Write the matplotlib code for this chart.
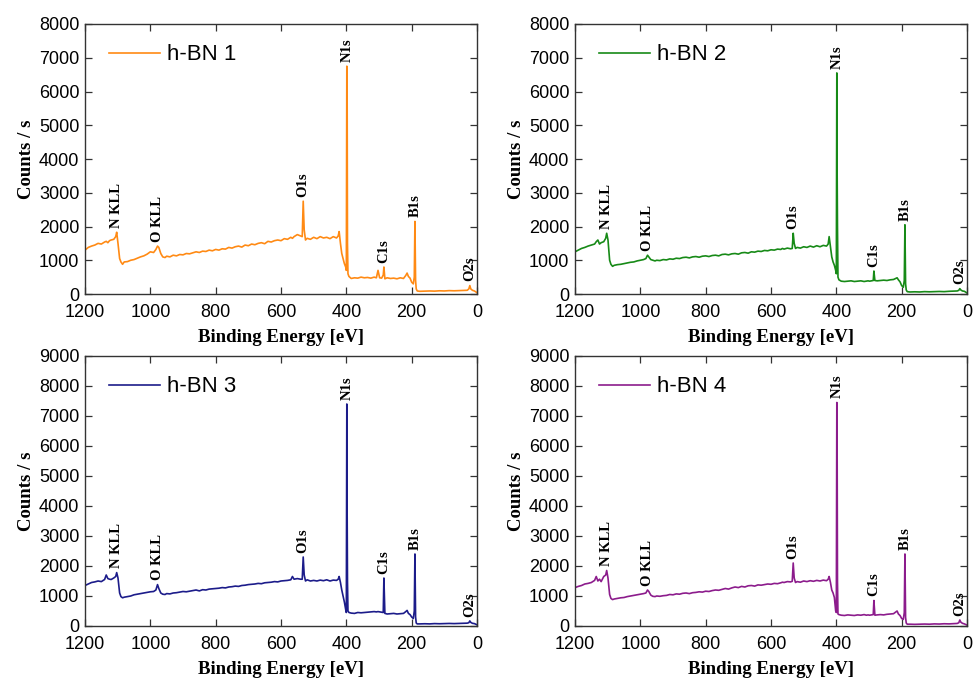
import matplotlib
matplotlib.use("Agg")
import matplotlib.pyplot as plt
import numpy as np

# ---------------- data (binding energy grid shared by all spectra) ----------------
energy = [
    1200, 1190, 1180, 1170, 1160, 1150, 1140, 1135, 1130, 1125, 1120, 1112, 1106, 1103, 1099, 1094, 1090, 1085, 1080,
    1070, 1060, 1050, 1040, 1030, 1020, 1010, 1000, 990, 983, 978, 974, 968, 962, 955,
    950, 940, 930, 920, 910, 900, 890, 880, 870, 860, 850, 840, 830, 820, 810, 800, 790, 780, 770, 760, 750, 740,
    730, 720, 710, 700, 690, 680, 670, 660, 650, 640, 630, 620, 610, 600, 590, 580, 570, 565, 560, 550, 540,
    535, 532, 529, 525, 520, 510, 500, 490, 480, 470, 460, 450, 440, 430, 425, 422, 418, 414, 410, 406, 402, 400,
    398.5, 397.5, 396.5, 395, 392,
    385, 375, 365, 355, 345, 335, 325, 315, 308, 303, 298, 292, 287, 285, 282, 275, 265, 255, 245, 235, 225, 218,
    214, 210, 205, 200, 195, 192, 190, 188, 186, 183,
    175, 160, 145, 130, 115, 100, 85, 70, 55, 40, 30, 25, 22, 19, 14, 8, 0,
]

counts_bn1 = [
    1300, 1380, 1420, 1450, 1500, 1480, 1540, 1560, 1520, 1580, 1600, 1620, 1700, 1830, 1500, 1050, 950, 880, 950,
    960, 1000, 1020, 1060, 1100, 1130, 1180, 1250, 1230, 1320, 1420, 1380, 1200, 1100, 1080,
    1120, 1100, 1150, 1130, 1170, 1160, 1200, 1190, 1220, 1250, 1230, 1270, 1260, 1300, 1280, 1320, 1300, 1340, 1330, 1380, 1360, 1400,
    1420, 1390, 1450, 1430, 1480, 1460, 1500, 1520, 1490, 1560, 1540, 1580, 1600, 1580, 1640, 1620, 1680, 1650, 1700, 1760, 1720,
    1700, 2750, 1900, 1600, 1650, 1620, 1680, 1640, 1700, 1660, 1680, 1640, 1700, 1660, 1720, 1850, 1500, 1200, 1050, 900, 800, 700,
    6750, 5900, 1500, 600, 520,
    460, 480, 470, 500, 480, 490, 470, 500, 480, 700, 480, 470, 560, 800, 450, 480, 460, 470, 450, 480, 460, 550,
    620, 520, 470, 350, 300, 500, 2150, 400, 150, 90,
    80, 85, 90, 85, 95, 90, 100, 95, 100, 105, 110, 150, 250, 150, 110, 90, 40,
]

counts_bn2 = [
    1250, 1300, 1350, 1380, 1420, 1450, 1480, 1550, 1600, 1480, 1520, 1550, 1650, 1800, 1600, 1000, 880, 820, 850,
    870, 880, 900, 920, 940, 950, 980, 1000, 1020, 1050, 1150, 1100, 1020, 1000, 980,
    1000, 990, 1020, 1010, 1040, 1030, 1060, 1050, 1080, 1090, 1070, 1100, 1110, 1090, 1120, 1130, 1110, 1140, 1150, 1130, 1170, 1180,
    1160, 1190, 1200, 1180, 1220, 1230, 1210, 1250, 1240, 1270, 1260, 1290, 1280, 1310, 1300, 1330, 1320, 1350, 1330, 1360, 1340,
    1350, 1800, 1500, 1350, 1380, 1360, 1400, 1380, 1420, 1390, 1430, 1400, 1440, 1420, 1480, 1700, 1400, 1100, 950, 850, 700, 600,
    6550, 3600, 2000, 500, 420,
    380, 370, 380, 390, 370, 380, 390, 370, 380, 390, 380, 390, 400, 680, 400, 390, 400, 410, 400, 420, 430, 460,
    480, 420, 360, 250, 200, 400, 2050, 300, 120, 70,
    60, 65, 60, 70, 65, 70, 75, 70, 80, 85, 90, 110, 160, 120, 90, 80, 30,
]

counts_bn3 = [
    1350, 1400, 1450, 1470, 1500, 1480, 1550, 1700, 1580, 1560, 1550, 1600, 1650, 1780, 1600, 1100, 980, 940, 960,
    980, 1000, 1040, 1060, 1080, 1100, 1120, 1140, 1150, 1200, 1380, 1250, 1100, 1060, 1050,
    1080, 1070, 1100, 1110, 1130, 1150, 1140, 1160, 1180, 1200, 1170, 1210, 1200, 1230, 1240, 1250, 1260, 1280, 1270, 1300, 1310, 1330,
    1320, 1350, 1360, 1380, 1390, 1400, 1420, 1410, 1440, 1450, 1460, 1480, 1470, 1500, 1510, 1520, 1540, 1650, 1560, 1580, 1560,
    1560, 2300, 1700, 1500, 1540, 1500, 1520, 1500, 1530, 1510, 1540, 1500, 1530, 1520, 1560, 1650, 1450, 1200, 1000, 800, 550, 450,
    7400, 3800, 1500, 500, 450,
    430, 420, 450, 440, 450, 460, 470, 480, 470, 480, 470, 460, 450, 1600, 420, 400, 410, 420, 400, 410, 420, 480,
    520, 420, 380, 300, 250, 500, 2400, 300, 100, 70,
    70, 75, 70, 80, 75, 80, 85, 80, 85, 90, 95, 110, 170, 120, 90, 80, 40,
]

counts_bn4 = [
    1280, 1320, 1350, 1400, 1420, 1450, 1520, 1650, 1500, 1560, 1480, 1650, 1700, 1850, 1600, 1050, 920, 880, 900,
    920, 940, 950, 980, 1000, 1020, 1040, 1060, 1080, 1100, 1200, 1150, 1030, 990, 980,
    1000, 990, 1010, 1020, 1050, 1040, 1070, 1060, 1090, 1100, 1080, 1110, 1120, 1140, 1130, 1160, 1150, 1180, 1200, 1190, 1220, 1250,
    1230, 1270, 1300, 1280, 1320, 1300, 1340, 1350, 1330, 1370, 1360, 1380, 1400, 1390, 1420, 1410, 1440, 1460, 1450, 1480, 1470,
    1490, 2100, 1600, 1450, 1480, 1460, 1500, 1480, 1510, 1490, 1520, 1500, 1530, 1510, 1560, 1650, 1450, 1200, 1100, 950, 500, 450,
    7450, 5800, 1500, 400, 380,
    360, 350, 370, 360, 350, 370, 360, 380, 360, 370, 360, 370, 380, 850, 360, 370, 380, 370, 390, 400, 410, 470,
    500, 400, 350, 250, 220, 450, 2400, 280, 100, 60,
    60, 55, 60, 65, 60, 70, 65, 75, 70, 80, 85, 110, 200, 130, 90, 70, 30,
]

series_names = ["h-BN 1", "h-BN 2", "h-BN 3", "h-BN 4"]
series_counts = [counts_bn1, counts_bn2, counts_bn3, counts_bn4]
series_colors = ["#ff8a14", "#178a17", "#1c1c8a", "#8c1c8c"]
y_max = [8000, 8000, 9000, 9000]

peak_labels = ["N KLL", "O KLL", "O1s", "N1s", "C1s", "B1s", "O2s"]
peak_energies = [1103, 978, 532, 398.5, 285, 190, 22]

x_ticks = [1200, 1000, 800, 600, 400, 200, 0]

# ---------------- figure ----------------
fig = plt.figure(figsize=(9.76, 6.82), dpi=100)
lefts = [85 / 976, 575 / 976, 85 / 976, 575 / 976]
bottoms = [1 - 294 / 682, 1 - 294 / 682, 1 - 626 / 682, 1 - 626 / 682]
w = 392 / 976
h = 270 / 682

tick_font = "Liberation Sans"
label_font = "Liberation Serif"
E = np.array(energy)

for i in range(4):
    ax = fig.add_axes([lefts[i], bottoms[i], w, h])
    c = np.array(series_counts[i])
    ax.plot(E, c, color=series_colors[i], lw=1.2, label=series_names[i])
    ax.set_xlim(1200, 0)
    ax.set_ylim(0, y_max[i])
    ax.set_xticks(x_ticks)
    ax.set_yticks(np.arange(0, y_max[i] + 1, 1000))
    ax.tick_params(direction="in", top=True, right=True, length=5, width=0.9,
                   labelsize=13, color="#333333")
    ax.tick_params(axis="x", pad=7)
    ax.tick_params(axis="y", pad=4)
    for lab in ax.get_xticklabels() + ax.get_yticklabels():
        lab.set_fontfamily(tick_font)
    for sp in ax.spines.values():
        sp.set_linewidth(1.0)
        sp.set_color("#333333")
    ax.set_xlabel("Binding Energy [eV]", fontfamily=label_font, fontweight="bold",
                  fontsize=13.5, labelpad=6)
    ax.set_ylabel("Counts / s", fontfamily=label_font, fontweight="bold",
                  fontsize=13.5, labelpad=3)

    # peak labels
    for name, pe in zip(peak_labels, peak_energies):
        mask = np.abs(E - pe) <= 4
        ypk = c[mask].max()
        ax.annotate(name, xy=(pe, ypk), xytext=(0, 3), textcoords="offset points",
                    rotation=90, ha="center", va="bottom", fontsize=10.5,
                    fontfamily=label_font, fontweight="bold", annotation_clip=False)

    leg = ax.legend(loc="center left", bbox_to_anchor=(24 / 392, 1 - 31 / 270),
                    frameon=False, handlelength=2.3, handletextpad=0.3,
                    borderpad=0, borderaxespad=0, prop={"family": tick_font, "size": 16})

fig.savefig("out.png", dpi=100, facecolor="white")
